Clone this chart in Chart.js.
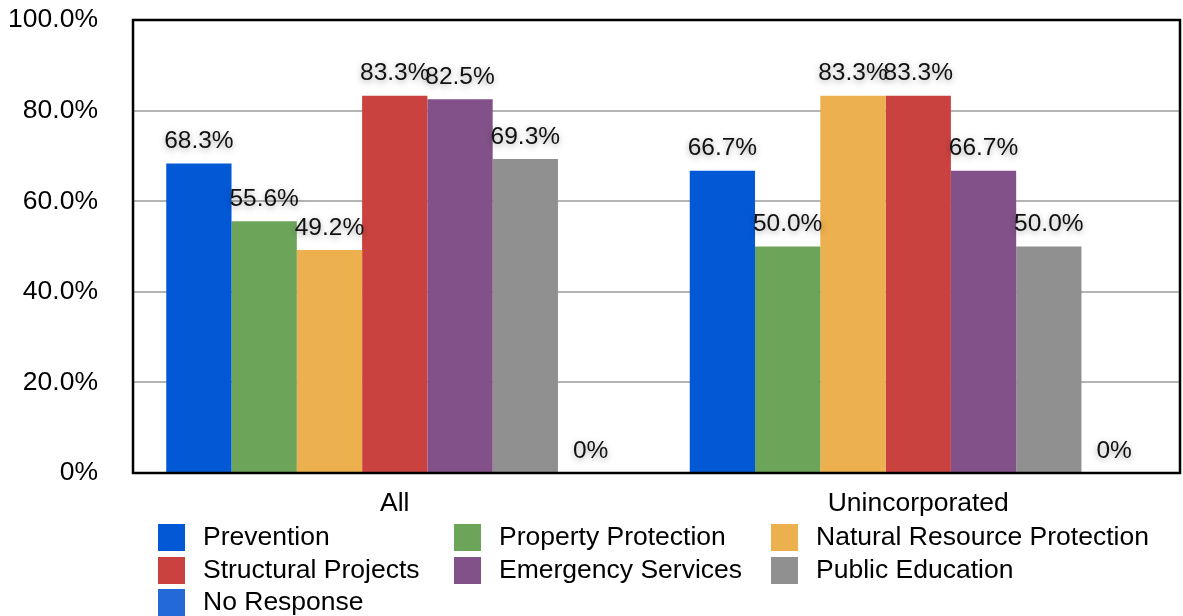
<!DOCTYPE html>
<html>
<head>
<meta charset="utf-8">
<script src="https://cdn.jsdelivr.net/npm/chart.js@4.4.1/dist/chart.umd.min.js"></script>
<style>
html,body{margin:0;padding:0;background:#fff;}
#wrap{width:1183px;height:616px;position:relative;}
</style>
</head>
<body>
<div id="wrap"><canvas id="c" width="1183" height="616"></canvas></div>
<script>
const categories = ["All", "Unincorporated"];
const seriesNames = ["Prevention", "Property Protection", "Natural Resource Protection", "Structural Projects", "Emergency Services", "Public Education", "No Response"];
const prevention = [68.3, 66.7];
const propertyProtection = [55.6, 50.0];
const naturalResourceProtection = [49.2, 83.3];
const structuralProjects = [83.3, 83.3];
const emergencyServices = [82.5, 66.7];
const publicEducation = [69.3, 50.0];
const noResponse = [0, 0];
const yTicks = [0, 20, 40, 60, 80, 100];

const colors = ["#0358d6", "#6ca45a", "#ecb04e", "#ca423f", "#835189", "#8f908f", "#2469d8"];
const seriesValues = [prevention, propertyProtection, naturalResourceProtection, structuralProjects, emergencyServices, publicEducation, noResponse];

const FONT = "Helvetica, Arial, 'Liberation Sans', sans-serif";
function fmt(v){ return v === 0 ? "0%" : v.toFixed(1) + "%"; }

const frameAndLabels = {
  id: "frameAndLabels",
  afterDatasetsDraw(chart) {
    const ctx = chart.ctx;
    const a = chart.chartArea;
    // data labels
    ctx.save();
    ctx.font = "24.5px " + FONT;
    ctx.textAlign = "center";
    ctx.textBaseline = "bottom";
    ctx.fillStyle = "#111";
    ctx.shadowColor = "rgba(0,0,0,0.35)";
    ctx.shadowBlur = 6;
    ctx.shadowOffsetY = 2;
    chart.data.datasets.forEach((ds, i) => {
      const meta = chart.getDatasetMeta(i);
      meta.data.forEach((bar, j) => {
        ctx.fillText(fmt(ds.data[j]), bar.x, bar.y - 10);
      });
    });
    ctx.restore();
    // frame
    ctx.save();
    ctx.strokeStyle = "#000";
    ctx.lineWidth = 2.5;
    ctx.strokeRect(a.left, a.top, a.right - a.left, a.bottom - a.top);
    ctx.restore();
    // legend (3-column grid)
    ctx.save();
    ctx.font = "26.5px " + FONT;
    ctx.textBaseline = "middle";
    ctx.textAlign = "left";
    const colX = [158, 454, 771];
    const textOff = 45;
    const rowTop = [524, 557, 589];
    chart.data.datasets.forEach((ds, i) => {
      const col = i % 3, row = Math.floor(i / 3);
      const x = colX[col], y = rowTop[row];
      ctx.fillStyle = ds.backgroundColor;
      ctx.fillRect(x, y, 27, 27);
      ctx.fillStyle = "#000";
      ctx.fillText(ds.label, x + textOff, y + 14);
    });
    ctx.restore();
  }
};

new Chart(document.getElementById("c"), {
  type: "bar",
  data: {
    labels: categories,
    datasets: seriesNames.map((n, i) => ({
      label: n,
      data: seriesValues[i],
      backgroundColor: colors[i],
      borderWidth: 0,
      categoryPercentage: 0.873,
      barPercentage: 1.0
    }))
  },
  options: {
    responsive: false,
    animation: false,
    layout: { padding: { top: 20, right: 3, left: 0, bottom: 0 } },
    plugins: { legend: { display: false }, tooltip: { enabled: false } },
    scales: {
      x: {
        grid: { display: false, drawTicks: false },
        border: { display: false },
        ticks: { color: "#000", font: { size: 26.5, family: FONT }, padding: 15 },
        afterFit(s) { s.height = 143; s.paddingLeft = 0; s.paddingRight = 0; }
      },
      y: {
        min: 0, max: 100,
        afterBuildTicks(s) { s.ticks = yTicks.map(v => ({ value: v })); },
        grid: { color: "#b4b4b4", lineWidth: 2, drawTicks: false },
        border: { display: false },
        ticks: { color: "#000", font: { size: 26.5, family: FONT }, padding: 35, callback: v => fmt(v) },
        afterFit(s) { s.width = 133; s.paddingTop = 0; s.paddingBottom = 0; }
      }
    }
  },
  plugins: [frameAndLabels]
});
</script>
</body>
</html>
